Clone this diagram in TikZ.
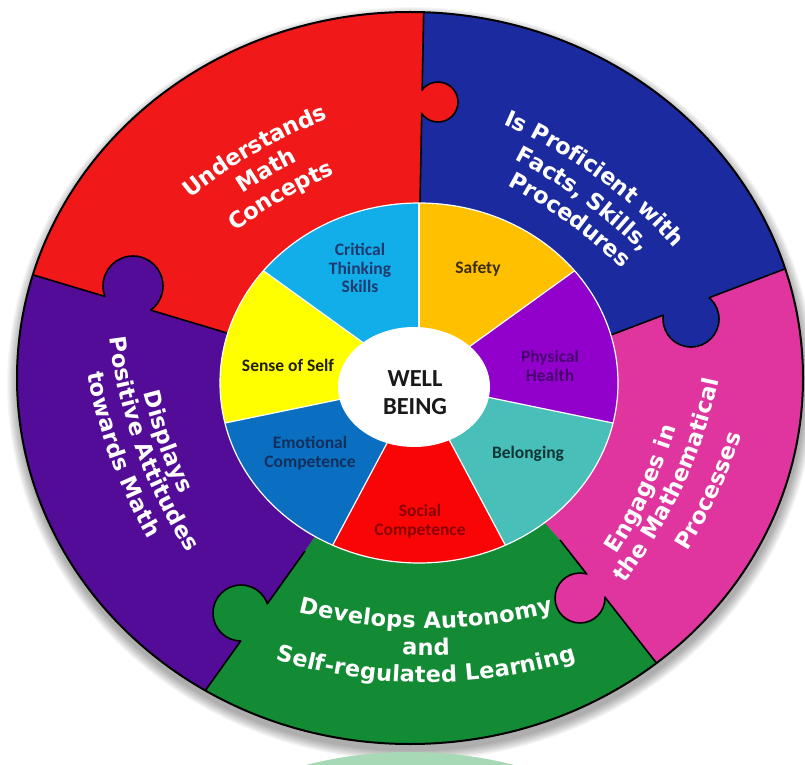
\documentclass[tikz,border=0pt]{standalone}
\usepackage{fontspec}
\usetikzlibrary{calc,decorations.text}
\newfontfamily\outerfont{DejaVu Sans}
\newfontfamily\wheelfont{Carlito}
\definecolor{pRed}{HTML}{F01818}
\definecolor{pBlue}{HTML}{1B2A9E}
\definecolor{pPink}{HTML}{E0359F}
\definecolor{pGreen}{HTML}{138A34}
\definecolor{pPurple}{HTML}{520C98}
\definecolor{wCyan}{HTML}{12AEEA}
\definecolor{wGold}{HTML}{FFC000}
\definecolor{wViolet}{HTML}{9200CC}
\definecolor{wTeal}{HTML}{48BFB9}
\definecolor{wRed}{HTML}{FA0505}
\definecolor{wBlue}{HTML}{0A6FC0}
\definecolor{wYellow}{HTML}{FFFF00}
\definecolor{mint}{HTML}{A8D9B6}
\definecolor{tCyan}{HTML}{1F3A6E}
\definecolor{tGold}{HTML}{3A2E00}
\definecolor{tViolet}{HTML}{4A0070}
\definecolor{tTeal}{HTML}{103535}
\definecolor{tRed}{HTML}{8A0000}
\definecolor{tBlue}{HTML}{12305E}
\definecolor{tYellow}{HTML}{202000}
% #1 Mx, #2 My, #3 phi, #4 R, #5 start, #6 end, #7 text
\newcommand\arctext[7]{%
  \path[decorate, decoration={text along path, text align=center, raise=-7.5pt,
    text={|\outerfont\bfseries\fontsize{22.5}{27}\selectfont\color{white}|#7}}]
    ({#1+#4*cos(#5)-#4*cos(#3)}, {#2+#4*sin(#5)-#4*sin(#3)})
    arc[start angle={#5}, end angle={#6}, radius=#4];
}
% #1 A, #2 B, #3 centre, #4 radius, #5 colour
\newcommand\knob[5]{%
  \fill[#5] (#3) circle[radius=#4];
  \begin{scope}
    \clip (#1) -- (#2) -- ($(#2)!1000pt!90:(#1)$) -- ($(#1)!1000pt!-90:(#2)$) -- cycle;
    \draw[edge] (#3) circle[radius=#4];
  \end{scope}
}
\begin{document}
\begin{tikzpicture}[x=1pt,y=1pt,
  edge/.style={draw=black, line width=1.6pt},
  seg/.style={draw=white, line width=1.2pt},
  wtext/.style={font=\wheelfont\bfseries\fontsize{17.5}{18.5}\selectfont, align=center}]
\useasboundingbox (0,0) rectangle (805,764);
\fill[white] (0,0) rectangle (805,764);
\coordinate (O) at (410,386);
\coordinate (W) at (419,381);
\coordinate (C) at (414,377);
% shadow
\foreach \i in {1,...,9}{
  \fill[black, opacity=0.04] (411,380) ellipse[x radius={393+\i*1.2}, y radius={366+\i*1.2}];
}
% reflection
\begin{scope}
  \clip (0,0) rectangle (805,764);
  \fill[mint] (410,-354) ellipse[x radius=393, y radius=366];
\end{scope}
% divider end points
\coordinate (A1) at (420,561); \coordinate (B1) at (424,770);
\coordinate (A2) at (611,429); \coordinate (B2) at (811,505);
\coordinate (A3) at (560,224); \coordinate (B3) at (680,71);
\coordinate (A4) at (305,213); \coordinate (B4) at (195,59);
\coordinate (A5) at (227,431); \coordinate (B5) at (10,496);
\coordinate (K1) at (438,662);
\coordinate (K2) at (691,445);
\coordinate (K3) at (580,166);
\coordinate (K4) at (241,151);
\coordinate (K5) at (133,478);
\begin{scope}
  \clip (O) ellipse[x radius=393, y radius=366];
  \fill[pRed] (W)--(A1)--(B1)--(424,800)--(-50,800)--(-50,496)--(B5)--(A5)--cycle;
  \fill[pBlue] (W)--(A1)--(B1)--(424,800)--(850,800)--(850,505)--(B2)--(A2)--cycle;
  \fill[pPink] (W)--(A2)--(B2)--(850,505)--(850,-50)--(680,-50)--(B3)--(A3)--cycle;
  \fill[pGreen] (W)--(A3)--(B3)--(680,-50)--(195,-50)--(B4)--(A4)--cycle;
  \fill[pPurple] (W)--(A4)--(B4)--(195,-50)--(-50,-50)--(-50,496)--(B5)--(A5)--cycle;
  \draw[edge] (A1)--(B1); \draw[edge] (A2)--(B2); \draw[edge] (A3)--(B3);
  \draw[edge] (A4)--(B4); \draw[edge] (A5)--(B5);
  \knob{A1}{B1}{K1}{20}{pRed}
  \knob{A2}{B2}{K2}{28}{pBlue}
  \knob{A3}{B3}{K3}{25}{pPink}
  \knob{A4}{B4}{K4}{28}{pGreen}
  \knob{A5}{B5}{K5}{30}{pPurple}
\end{scope}
\draw[draw=black, line width=2pt] (O) ellipse[x radius=393, y radius=366];
% wheel
\foreach \a/\b/\c in {38.571/90/wGold, -12.857/38.571/wViolet, -64.286/-12.857/wTeal,
  -115.714/-64.286/wRed, -167.143/-115.714/wBlue, 141.429/192.857/wYellow, 90/141.429/wCyan}{
  \fill[\c] (W) -- ++(\a:199 and 180) arc[start angle=\a, end angle=\b, x radius=199, y radius=180] -- cycle;
}
\foreach \a in {90,38.571,-12.857,-64.286,-115.714,-167.143,141.429}{
  \draw[seg] (W) -- ++(\a:199 and 180);
}
\draw[seg] (W) ellipse[x radius=199, y radius=180];
\fill[white] (C) ellipse[x radius=76, y radius=60];
% wheel labels
\node[wtext, text=tCyan] (crit) at (360,496) {Critical\\Thinking\\Skills};
\node[wtext, text=tGold] (safe) at (478,495) {Safety};
\node[wtext, text=tViolet] (phys) at (550,398) {Physical\\Health};
\node[wtext, text=tTeal] (belo) at (528,310) {Belonging};
\node[wtext, text=tRed] (soc) at (420,243) {Social\\Competence};
\node[wtext, text=tBlue] (emo) at (310,311) {Emotional\\Competence};
\node[wtext, text=tYellow] (self) at (288,399) {Sense of Self};
\node[font=\wheelfont\bfseries\fontsize{24.5}{28}\selectfont, align=center, text=black!90] (well) at (415,371) {WELL\\BEING};
% outer texts
\arctext{252.5}{617.4}{120}{500}{145}{95}{Understands}
\arctext{266}{594}{120}{500}{145}{95}{Math}
\arctext{279.5}{570.6}{120}{500}{145}{95}{Concepts}
\arctext{600}{593}{54}{500}{79}{29}{Is Proficient with}
\arctext{586}{569}{54}{500}{79}{29}{Facts, Skills,}
\arctext{572}{547}{54}{500}{79}{29}{Procedures}
\arctext{644}{274}{-25}{500}{-50}{0}{Engages in}
\arctext{676}{280}{-25}{500}{-50}{0}{the Mathematical}
\arctext{711}{272}{-25}{500}{-50}{0}{Processes}
\arctext{426}{143}{-90}{500}{-115}{-65}{Develops Autonomy}
\arctext{426}{116}{-90}{500}{-115}{-65}{and}
\arctext{426}{89}{-90}{500}{-115}{-65}{Self-regulated Learning}
\arctext{166}{322}{200}{500}{175}{225}{Displays}
\arctext{143}{317}{200}{500}{175}{225}{Positive Attitudes}
\arctext{117.6}{307.8}{200}{500}{175}{225}{towards Math}
\end{tikzpicture}
\end{document}
